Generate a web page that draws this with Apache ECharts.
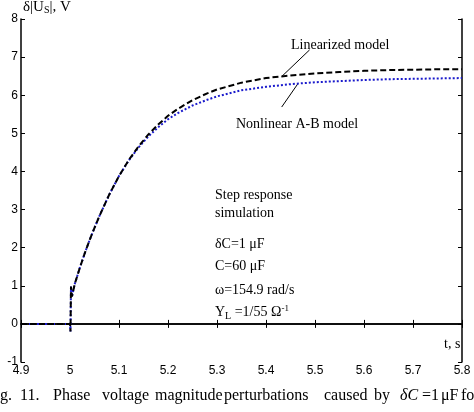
<!DOCTYPE html>
<html><head><meta charset="utf-8">
<script src="https://cdn.jsdelivr.net/npm/echarts@6/dist/echarts.min.js"></script>
<style>html,body{margin:0;padding:0;background:#fff}#c{width:474px;height:412px}</style>
</head><body><div id="c"></div>
<script>
// time axis (s) and model outputs (V)
var linT = [4.9, 5.0, 5.001, 5.002, 5.004, 5.01, 5.02, 5.03, 5.04, 5.05, 5.06, 5.08, 5.10, 5.12, 5.14, 5.16, 5.18, 5.20, 5.22, 5.25, 5.28, 5.30, 5.35, 5.40, 5.45, 5.50, 5.55, 5.60, 5.65, 5.70, 5.75, 5.80];
var linearized = [0, 0, -0.2, 0.98, 0.72, 1.06, 1.47, 1.85, 2.2, 2.52, 2.83, 3.39, 3.88, 4.3, 4.66, 4.97, 5.23, 5.46, 5.64, 5.87, 6.05, 6.15, 6.33, 6.45, 6.52, 6.57, 6.61, 6.64, 6.66, 6.67, 6.68, 6.68];
var nonlinear  = [0, 0, -0.2, 0.98, 0.72, 1.06, 1.47, 1.85, 2.2, 2.52, 2.83, 3.39, 3.88, 4.29, 4.63, 4.92, 5.16, 5.37, 5.53, 5.73, 5.88, 5.97, 6.13, 6.22, 6.29, 6.34, 6.37, 6.40, 6.42, 6.43, 6.44, 6.45];
var xTicks = {min: 4.9, max: 5.8, step: 0.1};
var yTicks = {min: -1, max: 8, step: 1};

function pairs(xs, ys){ return xs.map(function(x,i){ return [x, ys[i]]; }); }

var chart = echarts.init(document.getElementById('c'), null, {renderer:'canvas'});
var axisLine = {show:true, lineStyle:{color:'#000', width:1.5}};
var tickIn = {show:true, inside:true, length:4, lineStyle:{color:'#000', width:1}};
var labelFont = {fontFamily:'Liberation Sans', fontSize:12, color:'#000'};
var serif = 'Liberation Serif';

chart.setOption({
  animation:false,
  grid:{left:21, top:19, right:12, bottom:50},
  xAxis:[
    {type:'value', min:xTicks.min, max:xTicks.max, interval:xTicks.step, axisLine:axisLine, axisTick:tickIn, splitLine:{show:false},
     axisLabel:Object.assign({margin:3, formatter:function(v){return String(Math.round(v*10)/10);}}, labelFont)},
    {type:'value', position:'top', min:xTicks.min, max:xTicks.max, interval:xTicks.step, axisLine:axisLine, axisTick:tickIn, axisLabel:{show:false}, splitLine:{show:false}}
  ],
  yAxis:[
    {type:'value', min:yTicks.min, max:yTicks.max, interval:yTicks.step, axisLine:axisLine, axisTick:tickIn, splitLine:{show:false},
     axisLabel:Object.assign({margin:3}, labelFont)},
    {type:'value', position:'right', min:yTicks.min, max:yTicks.max, interval:yTicks.step, axisLine:axisLine, axisTick:tickIn, axisLabel:{show:false}, splitLine:{show:false}}
  ],
  series:[
    {name:'Nonlinear A-B model', type:'line', data:pairs(linT, nonlinear), showSymbol:false,
     lineStyle:{color:'#1a1acc', width:2, type:[2,2]}},
    {name:'Linearized model', type:'line', data:pairs(linT, linearized), showSymbol:false,
     lineStyle:{color:'#000', width:2, type:[6,3]}}
  ]
});

function px(p){ return chart.convertToPixel({xAxisIndex:0, yAxisIndex:0}, p); }
var a1 = px([5.489, 7.19]), a2 = px([5.432, 6.49]);
var b1 = px([5.432, 5.69]), b2 = px([5.465, 6.30]);

function txt(x, y, s, size, extra){
  return {type:'text', left:x, top:y, style:Object.assign({text:s, fontFamily:serif, fontSize:size||14, fill:'#000'}, extra||{})};
}
var cy = 388;
var g = [
  {type:'line', shape:{x1:a1[0], y1:a1[1], x2:a2[0], y2:a2[1]}, style:{stroke:'#000', lineWidth:1}},
  {type:'line', shape:{x1:b1[0], y1:b1[1], x2:b2[0], y2:b2[1]}, style:{stroke:'#000', lineWidth:1}},
  txt(291, 38, 'Linearized model', 14),
  txt(236, 117, 'Nonlinear A-B model', 14),
  txt(215, 188, 'Step response', 14),
  txt(215, 206, 'simulation', 14),
  txt(215, 237, 'δC=1 μF', 14),
  txt(215, 259, 'C=60 μF', 14),
  txt(215, 283, 'ω=154.9 rad/s', 14),
  txt(444, 337, 't, s', 14),
  {type:'text', left:215, top:304, style:{text:'{n|Y}{s|L}{n| =1/55 Ω}{u|-1}', rich:{
     n:{fontFamily:serif, fontSize:14, fill:'#000'},
     s:{fontFamily:serif, fontSize:10, fill:'#000', verticalAlign:'bottom', padding:[6,0,0,0]},
     u:{fontFamily:serif, fontSize:9, fill:'#000', padding:[0,0,8,0]}}}},
  {type:'text', left:23, top:0, style:{text:'{n|δ|U}{s|S}{n||, V}', rich:{
     n:{fontFamily:serif, fontSize:15, fill:'#000'},
     s:{fontFamily:serif, fontSize:10, fill:'#000', padding:[6,0,0,0]}}}},
  // caption
  txt(0, cy, 'g.', 16),
  txt(20, cy, '11.', 16),
  txt(53, cy, 'Phase', 16),
  txt(102, cy, 'voltage', 16),
  txt(155, cy, 'magnitude', 16),
  txt(224, cy, 'perturbations', 16),
  txt(324, cy, 'caused', 16),
  txt(374, cy, 'by', 16),
  txt(400, cy, 'δC', 16, {fontStyle:'italic'}),
  txt(422, cy, '=1', 16),
  txt(441, cy, 'μF', 16),
  txt(461, cy, 'fo', 16)
];
chart.setOption({graphic:g});
</script></body></html>
